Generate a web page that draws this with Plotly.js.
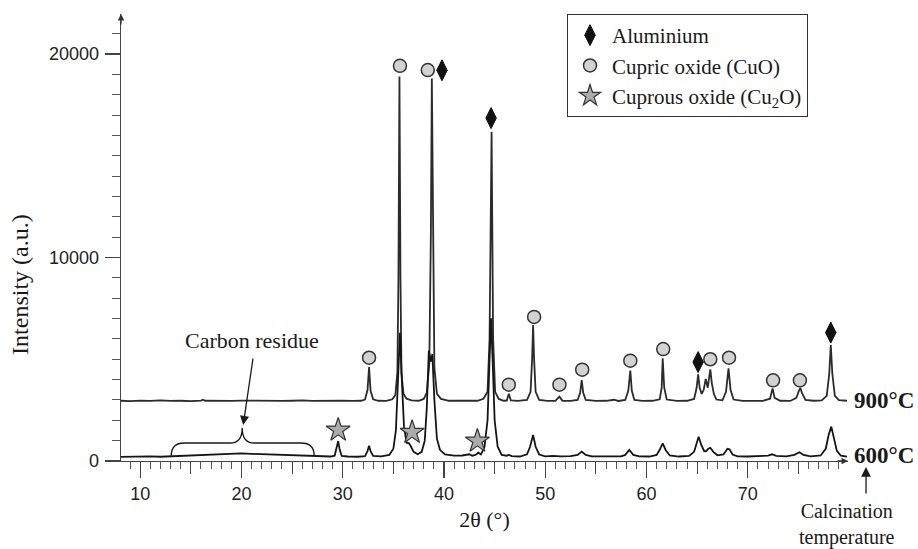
<!DOCTYPE html>
<html>
<head>
<meta charset="utf-8">
<script src="https://cdn.plot.ly/plotly-3.0.1.min.js"></script>
<style>
  html, body { margin: 0; padding: 0; background: #fff; }
  #chart { width: 918px; height: 549px; }
</style>
</head>
<body>
<div id="chart"></div>
<script>
// XRD pattern of the powder calcined at 900 °C (offset upward)
const twoTheta900 = [8.1, 9, 10, 11, 12, 13, 14, 15, 16, 16.2, 16.4, 17, 18, 19, 20, 21, 22, 23, 24, 25, 26, 27, 28, 29, 30, 31, 31.8,
  32.2, 32.45, 32.6, 32.75, 33.0, 33.5, 34.3, 34.9, 35.2, 35.4, 35.5, 35.6, 35.7, 35.8, 36.0, 36.3, 36.8, 37.5,
  38.0, 38.3, 38.55, 38.7, 38.8, 38.9, 39.05, 39.3, 39.7, 40.5, 41.5, 42.5, 43.3, 43.9, 44.3, 44.5, 44.7, 44.85, 45.05, 45.4, 45.9,
  46.2, 46.4, 46.6, 47.3, 48.2, 48.55, 48.7, 48.8, 48.9, 49.05, 49.4, 50.2, 51.0, 51.4, 51.7, 52.5, 53.2, 53.45, 53.6, 53.75, 54.0,
  55, 56, 56.8, 57.2, 57.9, 58.2, 58.4, 58.55, 58.8, 59.6, 60.6, 61.3, 61.5, 61.6, 61.75, 62.0, 63, 64, 64.7, 64.95, 65.1, 65.25,
  65.45, 65.65, 65.85, 66.05, 66.3, 66.45, 66.65, 66.9, 67.5, 67.85, 68.1, 68.3, 68.6, 69.5, 70.5, 71.5, 72.2, 72.45, 72.65, 73.2,
  74.2, 74.8, 75.05, 75.2, 75.35, 75.7, 76.5, 77.3, 77.8, 78.05, 78.2, 78.35, 78.6, 79.0, 79.8];
const intensity900 = [2960, 2940, 2970, 2950, 2980, 2950, 2960, 2940, 2970, 3010, 2960, 2950, 2960, 2950, 2970, 2960, 2950, 2970, 2950, 2960, 2980, 2950, 2960, 2940, 2960, 2950, 2960,
  3020, 3500, 4620, 3450, 3030, 2960, 2950, 3030, 3250, 4400, 9000, 18900, 9000, 4300, 3300, 3060, 2980, 2960,
  3050, 3350, 4800, 11000, 18800, 11000, 4600, 3300, 3050, 2960, 2950, 2970, 2960, 3060, 3400, 6000, 16170, 6000, 3400, 3050, 2960,
  2970, 3300, 2980, 2950, 3000, 3400, 5000, 6680, 5000, 3400, 3000, 2950, 2960, 3160, 2960, 2950, 3000, 3350, 3980, 3350, 3000,
  2950, 2960, 3010, 2950, 3000, 3450, 4440, 3450, 3000, 2950, 2960, 3030, 3600, 5050, 3600, 3020, 2950, 2960, 3050, 3600, 4260, 3600,
  3300, 3500, 4030, 3600, 4500, 3830, 3300, 3020, 2980, 3400, 4550, 3500, 3020, 2950, 2960, 2950, 3060, 3570, 3100, 2960,
  2950, 3100, 3450, 3590, 3350, 3000, 2960, 2980, 3200, 4300, 5700, 4300, 3200, 2990, 2960];

// XRD pattern of the powder calcined at 600 °C
const twoTheta600 = [8.1, 9, 10, 11, 12, 13, 14, 15, 16, 17, 18, 19, 20, 21, 22, 23, 24, 25, 26, 27, 28, 28.8,
  29.2, 29.4, 29.55, 29.7, 29.9, 30.5, 31.5, 32.2, 32.45, 32.6, 32.75, 33.0, 33.8, 34.6, 35.0, 35.25, 35.45, 35.65, 35.85, 36.05,
  36.3, 36.55, 36.75, 37.0, 37.4, 37.8, 38.1, 38.3, 38.5, 38.7, 38.85, 39.05, 39.3, 39.6, 40.1, 41, 41.8, 42.2, 42.5, 42.8, 43.1,
  43.4, 43.65, 44.0, 44.3, 44.5, 44.65, 44.8, 45.0, 45.3, 45.7, 46.2, 46.4, 46.7, 47.5, 48.2, 48.5, 48.8, 49.05, 49.4, 50.0, 50.8,
  51.5, 52.5, 53.2, 53.6, 54.0, 54.6, 55.5, 56.5, 57.5, 57.9, 58.3, 58.7, 59.3, 60.3, 61.0, 61.3, 61.6, 61.9, 62.3, 63.2, 64.2,
  64.7, 64.95, 65.15, 65.4, 65.7, 65.9, 66.1, 66.3, 66.6, 67.0, 67.6, 68.0, 68.2, 68.5, 69.0, 70.0, 71.0, 72.0, 72.4, 72.8, 73.8,
  74.6, 75.1, 75.5, 76.2, 77.2, 77.7, 78.0, 78.25, 78.5, 78.8, 79.2, 79.8];
const intensity600 = [200, 220, 210, 230, 210, 230, 260, 280, 300, 330, 360, 380, 370, 350, 330, 310, 290, 270, 250, 240, 230, 220,
  260, 600, 980, 550, 250, 220, 210, 240, 500, 750, 480, 250, 230, 300, 600, 1500, 4200, 6300, 3800, 1700,
  900, 870, 700, 450, 330, 450, 1000, 2600, 5420, 4880, 5260, 3000, 1100, 550, 320, 260, 270, 300, 330, 260, 300,
  410, 320, 700, 2000, 5000, 7010, 5000, 2000, 700, 300, 260, 300, 240, 220, 330, 700, 1280, 700, 320, 230, 250,
  230, 240, 300, 460, 300, 230, 220, 240, 230, 300, 540, 300, 230, 220, 300, 550, 870, 530, 270, 220, 250,
  450, 900, 1190, 800, 480, 490, 600, 650, 450, 280, 320, 600, 580, 320, 230, 220, 230, 260, 330, 250, 230,
  300, 430, 300, 230, 270, 600, 1300, 1690, 1200, 500, 260, 220];

// Phase identification markers
const aluminiumX = [39.8, 44.65, 65.1, 78.2];
const aluminiumY = [19200, 16850, 4860, 6310];
const cuoX = [32.6, 35.65, 38.4, 46.4, 48.9, 51.4, 53.65, 58.4, 61.65, 66.3, 68.15, 72.5, 75.15];
const cuoY = [5075, 19420, 19210, 3750, 7080, 3750, 4490, 4930, 5500, 5000, 5075, 3965, 3965];
const cu2oX = [29.55, 36.85, 43.3];
const cu2oY = [1520, 1410, 980];

// Axis ticks
const labelTicks = [10, 20, 30, 40, 50, 60, 70];
const halfTicks = [15, 25, 35, 45, 55, 65, 75];
const yTicks = [0, 10000, 20000];
const yTickText = ['0', '10000', '20000'];

// Curly brace under the amorphous carbon hump
const braceX = [13.06, 14.34, 18.88, 20.07, 21.25, 25.89, 27.18];
const braceY = [246, 885, 1622];

const serif = '"Liberation Serif", "Times New Roman", serif';
const sans = '"Liberation Sans", Arial, sans-serif';
const ink = '#1a1a1a';

const traces = [
  { x: twoTheta900, y: intensity900, type: 'scatter', mode: 'lines',
    line: { color: '#2b2b2b', width: 1.8 }, showlegend: false, hoverinfo: 'skip' },
  { x: twoTheta600, y: intensity600, type: 'scatter', mode: 'lines',
    line: { color: '#151515', width: 1.8 }, showlegend: false, hoverinfo: 'skip' },
  { x: aluminiumX, y: aluminiumY, type: 'scatter', mode: 'markers', name: 'Aluminium',
    marker: { symbol: 'diamond-tall', size: 15, color: '#111', line: { color: '#111', width: 1 } }, cliponaxis: false },
  { x: cuoX, y: cuoY, type: 'scatter', mode: 'markers', name: 'Cupric oxide (CuO)',
    marker: { symbol: 'circle', size: 13, color: '#d2d2d2', line: { color: '#333', width: 1.5 } }, cliponaxis: false },
  { x: cu2oX, y: cu2oY, type: 'scatter', mode: 'markers', name: 'Cuprous oxide (Cu<sub>2</sub>O)',
    marker: { symbol: 'star', size: 18, color: '#ababab', line: { color: '#333', width: 1.2 } }, cliponaxis: false },
  // carrier for the 5-degree ticks
  { x: [halfTicks[0]], y: [0], xaxis: 'x2', type: 'scatter', mode: 'markers',
    marker: { opacity: 0 }, showlegend: false, hoverinfo: 'skip' }
];

const bx = braceX, by = braceY;
const bracePath = `M ${bx[0]},${by[0]} Q ${bx[0]},${by[1]} ${bx[1]},${by[1]} L ${bx[2]},${by[1]} ` +
  `Q ${bx[3]},${by[1]} ${bx[3]},${by[2]} Q ${bx[3]},${by[1]} ${bx[4]},${by[1]} L ${bx[5]},${by[1]} ` +
  `Q ${bx[6]},${by[1]} ${bx[6]},${by[0]}`;

const layout = {
  width: 918, height: 549,
  margin: { l: 121, r: 70, t: 14, b: 88 },
  paper_bgcolor: '#fff', plot_bgcolor: '#fff',
  showlegend: true,
  legend: {
    x: 0.6135, y: 1.0, xanchor: 'left', yanchor: 'top',
    bordercolor: '#333', borderwidth: 1, bgcolor: '#fff',
    font: { family: serif, size: 21, color: ink },
    itemwidth: 34, tracegroupgap: 0, entrywidth: 220
  },
  xaxis: {
    range: [8.1, 79.9], showgrid: false, zeroline: false,
    showline: true, linecolor: '#444', linewidth: 1.3,
    ticks: 'outside', tickvals: labelTicks, ticklen: 16, tickwidth: 1.3, tickcolor: '#444',
    minor: { dtick: 1, tick0: 0, ticks: 'outside', ticklen: 7, tickwidth: 1, tickcolor: '#555' },
    tickfont: { family: sans, size: 18, color: '#222' },
    title: { text: '2θ (°)', font: { family: serif, size: 22, color: ink }, standoff: 8 }
  },
  xaxis2: {
    overlaying: 'x', matches: 'x', range: [8.1, 79.9], showgrid: false, zeroline: false,
    showline: false, ticks: 'outside', tickvals: halfTicks, ticklen: 12, tickwidth: 1.2, tickcolor: '#444',
    showticklabels: false
  },
  yaxis: {
    range: [0, 21966], showgrid: false, zeroline: false,
    showline: true, linecolor: '#444', linewidth: 1.3,
    ticks: 'outside', tickvals: yTicks, ticktext: yTickText, ticklen: 15, tickwidth: 1.3, tickcolor: '#444',
    minor: { dtick: 1000, tick0: 0, ticks: 'outside', ticklen: 8, tickwidth: 1, tickcolor: '#555' },
    tickfont: { family: sans, size: 18, color: '#222' },
    ticklabelstandoff: 2
  },
  shapes: [
    { type: 'path', xref: 'x', yref: 'y', path: bracePath, line: { color: ink, width: 1.3 } }
  ],
  annotations: [
    // y-axis title, placed low along the axis
    { xref: 'paper', yref: 'paper', x: -0.139, y: 0.396, text: 'Intensity (a.u.)', textangle: -90,
      showarrow: false, xanchor: 'center', yanchor: 'middle',
      font: { family: serif, size: 24, color: ink } },
    // axis arrowheads
    { xref: 'paper', yref: 'paper', x: 1.0, y: 0, ax: -12, ay: 0, text: '', showarrow: true,
      arrowhead: 2, arrowsize: 1, arrowwidth: 1.3, arrowcolor: '#333' },
    { xref: 'paper', yref: 'paper', x: 0, y: 1.0, ax: 0, ay: 12, text: '', showarrow: true,
      arrowhead: 2, arrowsize: 1, arrowwidth: 1.3, arrowcolor: '#333' },
    // carbon residue callout
    { xref: 'x', yref: 'y', x: 21.06, y: 5946, text: 'Carbon residue', showarrow: false,
      font: { family: serif, size: 22, color: ink } },
    { xref: 'x', yref: 'y', x: 20.17, y: 1770, ax: 10, ay: -68, text: '', showarrow: true,
      arrowhead: 2, arrowsize: 1.4, arrowwidth: 1.3, arrowcolor: ink },
    // calcination temperature labels
    { xref: 'paper', yref: 'y', x: 1.005, y: 2990, xanchor: 'left', text: '<b>900°C</b>', showarrow: false,
      font: { family: serif, size: 23, color: ink } },
    { xref: 'paper', yref: 'y', x: 1.005, y: 290, xanchor: 'left', text: '<b>600°C</b>', showarrow: false,
      font: { family: serif, size: 23, color: ink } },
    { xref: 'paper', yref: 'paper', x: 1.0248, y: -0.0134, ax: 0, ay: 28, text: '', showarrow: true,
      arrowhead: 2, arrowsize: 1.5, arrowwidth: 1.3, arrowcolor: ink },
    { xref: 'paper', yref: 'paper', x: 0.9986, y: -0.083, xanchor: 'center', yanchor: 'top',
      text: 'Calcination<br>temperature', showarrow: false,
      font: { family: serif, size: 20, color: ink } }
  ]
};

Plotly.newPlot('chart', traces, layout, { staticPlot: true, displayModeBar: false });
</script>
</body>
</html>
